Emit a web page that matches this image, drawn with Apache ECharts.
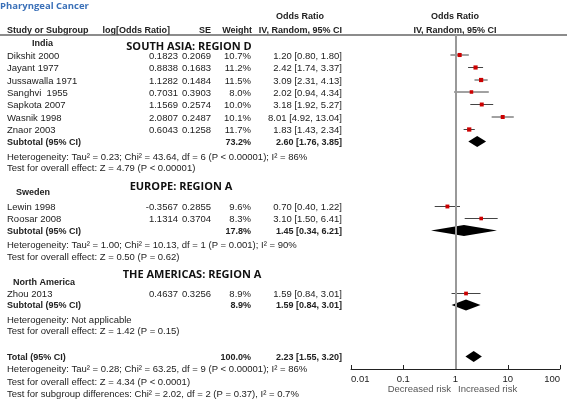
<!DOCTYPE html>
<html>
<head>
<meta charset="utf-8">
<script src="https://cdn.jsdelivr.net/npm/echarts@6/dist/echarts.min.js"></script>
<style>
html, body { margin: 0; padding: 0; background: #fff; }
#chart { width: 567px; height: 399px; }
</style>
</head>
<body>
<div id="chart"></div>
<script>
// study data
var studies = ['Dikshit 2000', 'Jayant 1977', 'Jussawalla 1971', 'Sanghvi  1955', 'Sapkota 2007', 'Wasnik 1998', 'Znaor 2003', 'Lewin 1998', 'Roosar 2008', 'Zhou 2013'];
var logOR = [0.1823, 0.8838, 1.1282, 0.7031, 1.1569, 2.0807, 0.6043, -0.3567, 1.1314, 0.4637];
var se = [0.2069, 0.1683, 0.1484, 0.3903, 0.2574, 0.2487, 0.1258, 0.2855, 0.3704, 0.3256];
var weight = [10.7, 11.2, 11.5, 8.0, 10.0, 10.1, 11.7, 9.6, 8.3, 8.9];
var orVal = [1.20, 2.42, 3.09, 2.02, 3.18, 8.01, 1.83, 0.70, 3.10, 1.59];
var ciLow = [0.80, 1.74, 2.31, 0.94, 1.92, 4.92, 1.43, 0.40, 1.50, 0.84];
var ciHigh = [1.80, 3.37, 4.13, 4.34, 5.27, 13.04, 2.34, 1.22, 6.41, 3.01];

// subgroups
var groups = ['India', 'Sweden', 'North America'];
var regions = ['SOUTH ASIA: REGION D', 'EUROPE: REGION A', 'THE AMERICAS: REGION A'];
var subWeight = [73.2, 17.8, 8.9];
var subOR = [2.60, 1.45, 1.59];
var subLow = [1.76, 0.34, 0.84];
var subHigh = [3.85, 6.21, 3.01];
var subHet = [
  'Heterogeneity: Tau\u00b2 = 0.23; Chi\u00b2 = 43.64, df = 6 (P < 0.00001); I\u00b2 = 86%',
  'Heterogeneity: Tau\u00b2 = 1.00; Chi\u00b2 = 10.13, df = 1 (P = 0.001); I\u00b2 = 90%',
  'Heterogeneity: Not applicable'
];
var subEffect = [
  'Test for overall effect: Z = 4.79 (P < 0.00001)',
  'Test for overall effect: Z = 0.50 (P = 0.62)',
  'Test for overall effect: Z = 1.42 (P = 0.15)'
];

// overall
var totalWeight = 100.0;
var totalOR = 2.23, totalLow = 1.55, totalHigh = 3.20;
var totalHet = 'Heterogeneity: Tau\u00b2 = 0.28; Chi\u00b2 = 63.25, df = 9 (P < 0.00001); I\u00b2 = 86%';
var totalEffect = 'Test for overall effect: Z = 4.34 (P < 0.0001)';
var subgroupTest = 'Test for subgroup differences: Chi\u00b2 = 2.02, df = 2 (P = 0.37), I\u00b2 = 0.7%';

var axisTicks = [0.01, 0.1, 1, 10, 100];

// layout (row positions in px)
var studyRowY = [55, 67.5, 80, 92, 104.5, 117, 129.5, 206.5, 218.5, 293.5];
var groupLabelY = [43, 192, 282];
var groupLabelX = [32, 16, 13];
var regionY = [46, 185.5, 274];
var regionX = [189, 181, 192];
var subtotalY = [141.5, 230.5, 305];
var hetY = [156, 244, 319];
var effectY = [167.5, 256, 330.5];
var totalY = 356.5, totalHetY = 368.5, totalEffectY = 381, subgroupTestY = 393.5;

var TXT = '#222';
var FONT = '9.5px "Liberation Sans", Arial, sans-serif';
var BOLD = 'bold 9px "Liberation Sans", Arial, sans-serif';

function ci(o, l, h) {
  return o.toFixed(2) + ' [' + l.toFixed(2) + ', ' + h.toFixed(2) + ']';
}

var graphics = [];
function txt(x, y, s, font, align, color) {
  graphics.push({
    type: 'text',
    silent: true,
    style: {
      x: x, y: y + 1, text: s, font: font || FONT, fill: color || TXT,
      align: align || 'left', verticalAlign: 'middle',
      textAlign: align || 'left', textVerticalAlign: 'middle'
    }
  });
}

// title + headers
txt(0, 5, 'Pharyngeal Cancer', 'bold 9.5px "Open Sans", sans-serif', 'left', '#3a70b8');
txt(300, 16, 'Odds Ratio', BOLD, 'center');
txt(455, 16, 'Odds Ratio', BOLD, 'center');
txt(7, 29.5, 'Study or Subgroup', BOLD);
txt(170, 29.5, 'log[Odds Ratio]', BOLD, 'right');
txt(211, 29.5, 'SE', BOLD, 'right');
txt(252, 29.5, 'Weight', BOLD, 'right');
txt(342, 29.5, 'IV, Random, 95% CI', BOLD, 'right');
txt(455, 29.5, 'IV, Random, 95% CI', BOLD, 'center');
graphics.push({
  type: 'line', silent: true,
  shape: { x1: 0, y1: 35, x2: 567, y2: 35 },
  style: { stroke: '#666', lineWidth: 1.5 }
});

// study rows
for (var i = 0; i < studies.length; i++) {
  var y = studyRowY[i];
  txt(7, y, studies[i]);
  txt(178, y, logOR[i].toFixed(4), FONT, 'right');
  txt(211, y, se[i].toFixed(4), FONT, 'right');
  txt(251, y, weight[i].toFixed(1) + '%', FONT, 'right');
  txt(342, y, ci(orVal[i], ciLow[i], ciHigh[i]), FONT, 'right');
}

// subgroup rows
for (var g = 0; g < groups.length; g++) {
  txt(groupLabelX[g], groupLabelY[g], groups[g], BOLD);
  txt(regionX[g], regionY[g], regions[g], 'bold 11px "Open Sans", sans-serif', 'center', '#111');
  txt(7, subtotalY[g], 'Subtotal (95% CI)', BOLD);
  txt(251, subtotalY[g], subWeight[g].toFixed(1) + '%', BOLD, 'right');
  txt(342, subtotalY[g], ci(subOR[g], subLow[g], subHigh[g]), BOLD, 'right');
  txt(7, hetY[g], subHet[g]);
  txt(7, effectY[g], subEffect[g]);
}

// total
txt(7, totalY, 'Total (95% CI)', BOLD);
txt(251, totalY, totalWeight.toFixed(1) + '%', BOLD, 'right');
txt(342, totalY, ci(totalOR, totalLow, totalHigh), BOLD, 'right');
txt(7, totalHetY, totalHet);
txt(7, totalEffectY, totalEffect);
txt(7, subgroupTestY, subgroupTest);
txt(451, 388, 'Decreased risk', FONT, 'right', '#555');
txt(458, 388, 'Increased risk', FONT, 'left', '#555');

// plot data
var studyData = studies.map(function (s, i) {
  return [orVal[i], ciLow[i], ciHigh[i], studyRowY[i], weight[i]];
});
var diamondData = subOR.map(function (o, g) {
  return [o, subLow[g], subHigh[g], subtotalY[g]];
});
diamondData.push([totalOR, totalLow, totalHigh, totalY]);

var myChart = echarts.init(document.getElementById('chart'));
var option = {
  animation: false,
  backgroundColor: '#fff',
  graphic: graphics,
  grid: { left: 351, right: 7, top: 35, bottom: 30 },
  xAxis: {
    type: 'log',
    logBase: 10,
    min: 0.01,
    max: 100,
    axisLine: { lineStyle: { color: '#222', width: 1 } },
    axisTick: { inside: true, length: 4, lineStyle: { color: '#222' } },
    minorTick: { show: false },
    splitLine: { show: false },
    axisLabel: {
      color: '#222',
      fontSize: 9.5,
      fontFamily: '"Liberation Sans", Arial, sans-serif',
      margin: 5,
      alignMinLabel: 'left',
      alignMaxLabel: 'right',
      formatter: function (v) {
        for (var k = 0; k < axisTicks.length; k++) {
          if (Math.abs(v - axisTicks[k]) < axisTicks[k] * 1e-6) return String(axisTicks[k]);
        }
        return '';
      }
    }
  },
  yAxis: {
    type: 'value',
    min: 35,
    max: 369,
    inverse: true,
    show: false
  },
  series: [{
    type: 'custom',
    silent: true,
    data: studyData,
    encode: { x: [0, 1, 2], y: 3 },
    renderItem: function (params, api) {
      var y = api.value(3);
      var p = api.coord([api.value(0), y]);
      var lo = api.coord([api.value(1), y]);
      var hi = api.coord([api.value(2), y]);
      var size = Math.sqrt(api.value(4)) * 1.25;
      return {
        type: 'group',
        children: [{
          type: 'line',
          shape: { x1: lo[0], y1: p[1], x2: hi[0], y2: p[1] },
          style: { stroke: '#444', lineWidth: 1 }
        }, {
          type: 'rect',
          shape: { x: p[0] - size / 2, y: p[1] - size / 2, width: size, height: size },
          style: { fill: '#cc0000' }
        }]
      };
    }
  }, {
    type: 'custom',
    silent: true,
    data: diamondData,
    encode: { x: [0, 1, 2], y: 3 },
    renderItem: function (params, api) {
      var y = api.value(3);
      var p = api.coord([api.value(0), y]);
      var lo = api.coord([api.value(1), y]);
      var hi = api.coord([api.value(2), y]);
      return {
        type: 'polygon',
        shape: { points: [[lo[0], p[1]], [p[0], p[1] - 5.5], [hi[0], p[1]], [p[0], p[1] + 5.5]] },
        style: { fill: '#000' }
      };
    },
    markLine: {
      silent: true,
      symbol: 'none',
      label: { show: false },
      lineStyle: { color: '#999', width: 2, type: 'solid' },
      data: [{ xAxis: 1 }]
    }
  }]
};
myChart.setOption(option);
</script>
</body>
</html>
